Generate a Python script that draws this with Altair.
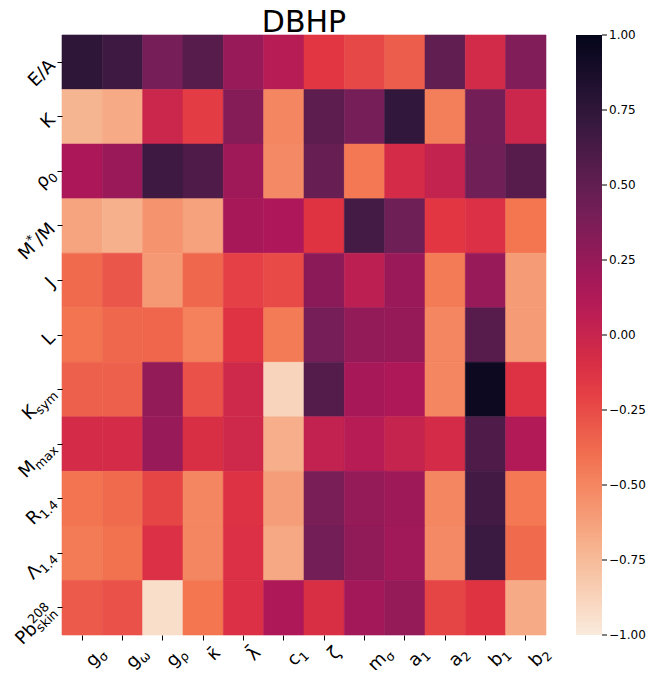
import altair as alt
import pandas as pd

FONT = "DejaVu Sans"
FS = 18.0          # tick label font size
SUB = 0.7          # sub/superscript scale

# ---------------- data ----------------
rows = ["E/A", "K", "rho0", "Mstar", "J", "L", "Ksym", "Mmax", "R14", "Lam14", "Pb"]
cols = ["gs", "gw", "gr", "kap", "lam", "c1", "zeta", "ms", "a1", "a2", "b1", "b2"]

row_EA    = [0.76, 0.67, 0.40, 0.55, 0.24, 0.09, -0.16, -0.23, -0.32, 0.50, -0.06, 0.35]
row_K     = [-0.72, -0.67, -0.02, -0.18, 0.33, -0.50, 0.52, 0.40, 0.74, -0.47, 0.41, -0.02]
row_rho0  = [0.15, 0.23, 0.67, 0.59, 0.21, -0.52, 0.47, -0.44, -0.07, 0.02, 0.43, 0.55]
row_Mstar = [-0.64, -0.70, -0.56, -0.63, 0.17, 0.14, -0.14, 0.64, 0.44, -0.16, -0.11, -0.43]
row_J     = [-0.38, -0.29, -0.59, -0.37, -0.20, -0.24, 0.30, 0.06, 0.23, -0.45, 0.24, -0.60]
row_L     = [-0.42, -0.37, -0.36, -0.48, -0.13, -0.45, 0.40, 0.27, 0.25, -0.50, 0.55, -0.60]
row_Ksym  = [-0.34, -0.34, 0.27, -0.27, -0.04, -0.88, 0.57, 0.17, 0.13, -0.50, 0.95, -0.12]
row_Mmax  = [-0.07, -0.07, 0.24, -0.10, -0.04, -0.69, 0.03, 0.09, 0.01, -0.07, 0.59, 0.12]
row_R14   = [-0.42, -0.38, -0.22, -0.50, -0.12, -0.61, 0.38, 0.26, 0.22, -0.50, 0.65, -0.44]
row_Lam14 = [-0.45, -0.41, -0.11, -0.50, -0.11, -0.66, 0.41, 0.28, 0.20, -0.52, 0.69, -0.38]
row_Pb    = [-0.31, -0.27, -0.93, -0.43, -0.11, 0.13, -0.10, 0.19, 0.26, -0.22, -0.14, -0.67]
matrix = [row_EA, row_K, row_rho0, row_Mstar, row_J, row_L, row_Ksym,
          row_Mmax, row_R14, row_Lam14, row_Pb]

row_labels = [
    [("E/A", "n")],
    [("K", "n")],
    [("ρ", "n"), ("0", "sub")],
    [("M", "n"), ("*", "sup"), ("/M", "n")],
    [("J", "n")],
    [("L", "n")],
    [("K", "n"), ("sym", "sub")],
    [("M", "n"), ("max", "sub")],
    [("R", "n"), ("1.4", "sub")],
    [("Λ", "n"), ("1.4", "sub")],
    [("Pb", "n"), ("208", "supstack"), ("skin", "sub")],
]
col_labels = [
    [("g", "n"), ("σ", "sub")], [("g", "n"), ("ω", "sub")], [("g", "n"), ("ρ", "sub")],
    [("κ\u0304", "n")], [("λ\u0304", "n")], [("c", "n"), ("1", "sub")], [("ζ", "n")],
    [("m", "n"), ("σ", "sub")], [("a", "n"), ("1", "sub")], [("a", "n"), ("2", "sub")],
    [("b", "n"), ("1", "sub")], [("b", "n"), ("2", "sub")],
]

cbar_ticks = [1.0, 0.75, 0.5, 0.25, 0.0, -0.25, -0.5, -0.75, -1.0]

# rocket_r colormap stops
cmap_domain = [-1, -5 / 7, -3 / 7, -1 / 7, 1 / 7, 3 / 7, 5 / 7, 1]
cmap_range = ["#faebdd", "#f6b48f", "#f37651", "#e13342", "#ad1759", "#701f57", "#35193e", "#03051a"]

# ---------------- helpers ----------------
W = {"E": .632, "/": .337, "A": .684, "K": .656, "ρ": .635, "0": .636, "M": .863, "*": .5,
     "J": .295, "L": .557, "s": .521, "y": .592, "m": .974, "a": .613, "x": .592, "R": .695,
     "1": .636, ".": .318, "4": .636, "Λ": .684, "P": .603, "b": .635, "2": .636, "8": .636,
     "k": .579, "i": .278, "n": .634, "g": .635, "σ": .634, "ω": .812, "κ": .58, "λ": .592,
     "c": .55, "ζ": .52, "\u0304": 0.0}


def tw(s, size):
    return sum(W.get(ch, 0.6) for ch in s) * size


def layout(parts):
    pos, out, pend = 0.0, [], None
    for text, kind in parts:
        size = FS * SUB if kind in ("sub", "sup", "supstack") else FS
        w = tw(text, size)
        if kind == "supstack":
            out.append((text, size, pos, -0.42 * FS))
            pend = w
            continue
        shift = 0.22 * FS if kind == "sub" else (-0.42 * FS if kind == "sup" else 0.0)
        out.append((text, size, pos, shift))
        pos += max(w, pend) if pend else w
        pend = None
    return out, pos


PW, PH = 484, 600
df = pd.DataFrame([{"row": r, "col": c, "v": matrix[i][j]}
                   for i, r in enumerate(rows) for j, c in enumerate(cols)])

tick_axis = dict(labels=False, ticks=True, domain=False, title=None,
                 tickSize=5, tickColor="black", tickWidth=1)
cscale = alt.Scale(domain=cmap_domain, range=cmap_range, interpolate="rgb")

heat = alt.Chart(df).mark_rect(strokeWidth=0.6).encode(
    x=alt.X("col:N", scale=alt.Scale(domain=cols), axis=alt.Axis(**tick_axis)),
    y=alt.Y("row:N", scale=alt.Scale(domain=rows), axis=alt.Axis(**tick_axis)),
    color=alt.Color("v:Q", scale=cscale,
                    legend=alt.Legend(orient="none", legendX=514, legendY=0, direction="vertical",
                                      gradientLength=PH, gradientThickness=26, title=None,
                                      labelExpr="''", gradientStrokeWidth=0, padding=0)),
    stroke=alt.Stroke("v:Q", scale=cscale, legend=None),
)

layers = [heat]

# y tick labels (rotated, right end at tick)
YMID = 0.33 * FS
for key, parts in zip(rows, row_labels):
    items, L = layout(parts)
    for text, size, s, shift in items:
        layers.append(
            alt.Chart(alt.Data(values=[{"row": key, "t": text}])).mark_text(
                angle=315, align="left", baseline="alphabetic", font=FONT, fontSize=size,
                dx=s - L, dy=YMID + shift, color="black"
            ).encode(
                x=alt.value(-10),
                y=alt.Y("row:N", scale=alt.Scale(domain=rows), axis=None),
                text="t:N",
            )
        )

# x tick labels (rotated, starting right of tick)
c = 0.70711
XOFF = 10.5
Y0 = 619
for key, parts in zip(cols, col_labels):
    items, L = layout(parts)
    a = (XOFF - c * L) / (2 * c)
    b = (XOFF + c * L) / (2 * c)
    for text, size, s, shift in items:
        layers.append(
            alt.Chart(alt.Data(values=[{"col": key, "t": text}])).mark_text(
                angle=315, align="left", baseline="alphabetic", font=FONT, fontSize=size,
                dx=a + s, dy=b + shift, color="black"
            ).encode(
                x=alt.X("col:N", scale=alt.Scale(domain=cols)),
                y=alt.value(Y0),
                text="t:N",
            )
        )

# colorbar ticks and labels
cb = pd.DataFrame({"v": cbar_ticks})
cb_y = alt.Y("v:Q", scale=alt.Scale(domain=[-1, 1], nice=False, zero=False), axis=None)
layers.append(alt.Chart(cb).mark_rule(color="black", strokeWidth=1).encode(
    x=alt.value(540), x2=alt.value(545), y=cb_y))
layers.append(alt.Chart(cb).mark_text(align="left", baseline="middle", font=FONT,
                                       fontSize=12, color="black").encode(
    x=alt.value(547), y=cb_y, text=alt.Text("v:Q", format=".2f")))

chart = alt.layer(*layers).resolve_scale(y="independent", stroke="independent").properties(
    width=PW, height=PH,
    title=alt.TitleParams("DBHP", fontSize=30, font=FONT, fontWeight="normal",
                          anchor="middle", offset=3, dy=12, color="black"),
    padding={"left": 54, "top": 27, "right": 100, "bottom": 35},
    autosize=alt.AutoSizeParams(type="none"),
).configure_view(strokeWidth=0)

chart.save("out.html", embed_options={"renderer": "svg", "actions": False})
